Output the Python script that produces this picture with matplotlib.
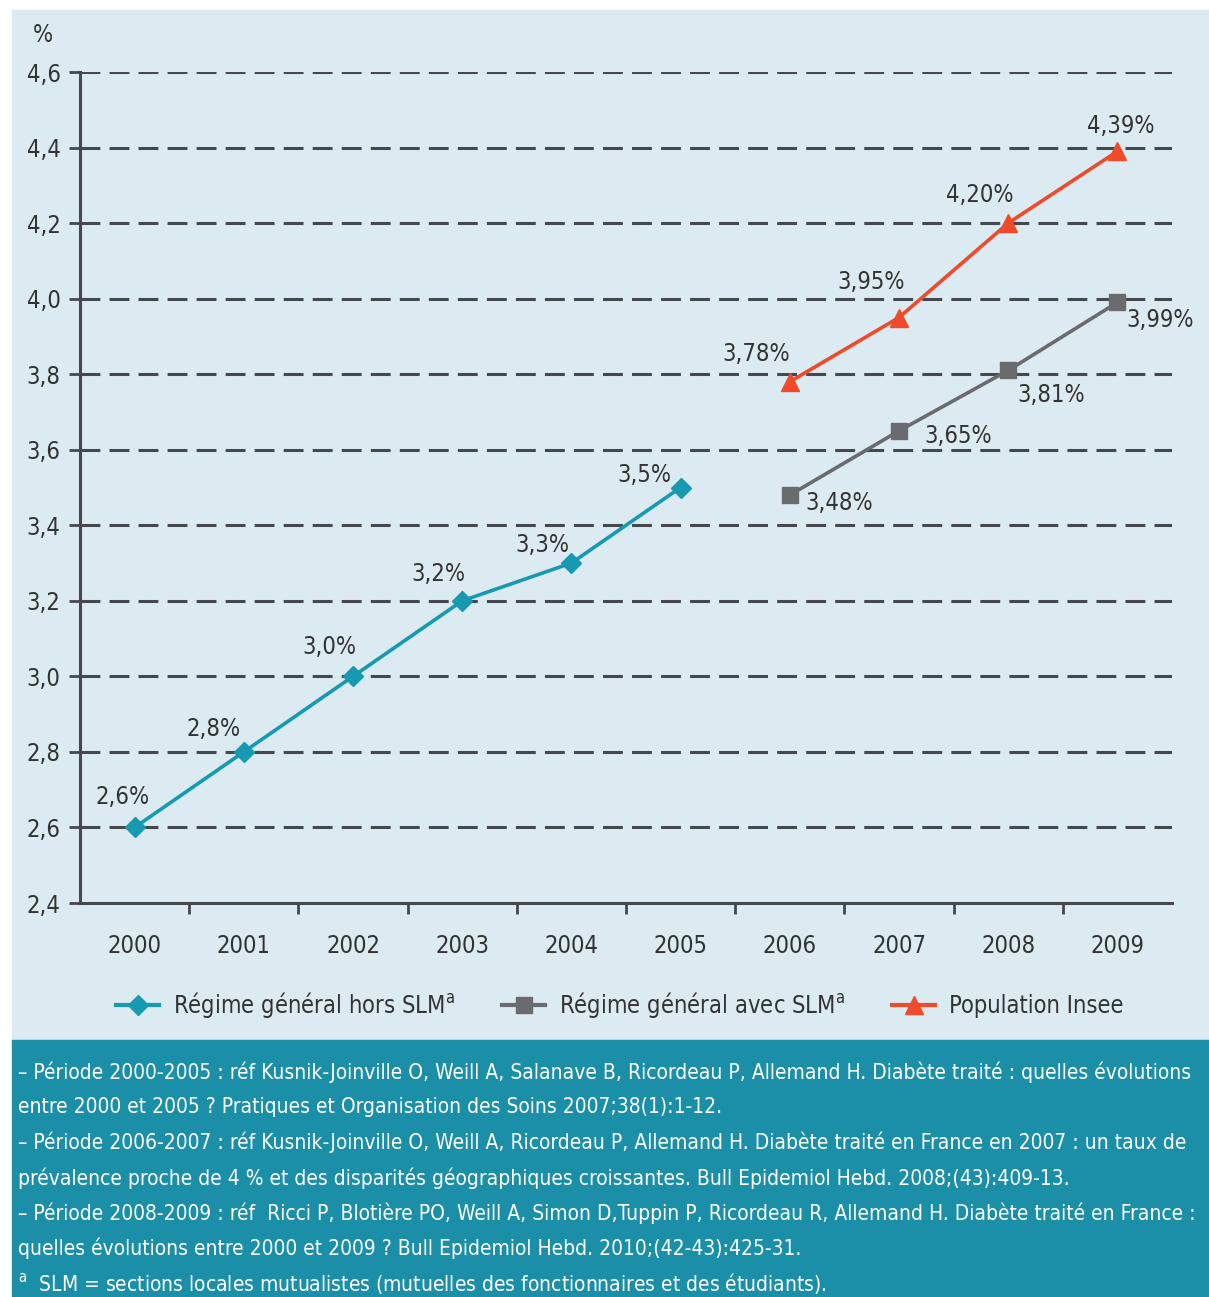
import matplotlib
matplotlib.use('Agg')
import matplotlib.pyplot as plt
from matplotlib.patches import Rectangle
from matplotlib.lines import Line2D

plt.rcParams['font.family'] = ['DejaVu Sans']
plt.rcParams['font.stretch'] = 'condensed'
# superscript "a" rendered with the same condensed face
plt.rcParams['mathtext.fontset'] = 'custom'
plt.rcParams['mathtext.rm'] = 'DejaVu Sans:stretch=condensed'

years = ['2000', '2001', '2002', '2003', '2004', '2005', '2006', '2007', '2008', '2009']
hors_slm = [2.6, 2.8, 3.0, 3.2, 3.3, 3.5]
hors_slm_lbl = ['2,6%', '2,8%', '3,0%', '3,2%', '3,3%', '3,5%']
avec_slm = [3.48, 3.65, 3.81, 3.99]
avec_slm_lbl = ['3,48%', '3,65%', '3,81%', '3,99%']
insee = [3.78, 3.95, 4.20, 4.39]
insee_lbl = ['3,78%', '3,95%', '4,20%', '4,39%']
yticks = [2.4, 2.6, 2.8, 3.0, 3.2, 3.4, 3.6, 3.8, 4.0, 4.2, 4.4, 4.6]
ytick_lbl = ['2,4', '2,6', '2,8', '3,0', '3,2', '3,4', '3,6', '3,8', '4,0', '4,2', '4,4', '4,6']
sup_a = r'$^{\mathrm{a}}$'
labels = ['Régime général hors SLM' + sup_a, 'Régime général avec SLM' + sup_a, 'Population Insee']
notes = [
    '– Période 2000-2005 : réf Kusnik-Joinville O, Weill A, Salanave B, Ricordeau P, Allemand H. Diabète traité : quelles évolutions',
    'entre 2000 et 2005 ? Pratiques et Organisation des Soins 2007;38(1):1-12.',
    '– Période 2006-2007 : réf Kusnik-Joinville O, Weill A, Ricordeau P, Allemand H. Diabète traité en France en 2007 : un taux de',
    'prévalence proche de 4 % et des disparités géographiques croissantes. Bull Epidemiol Hebd. 2008;(43):409-13.',
    '– Période 2008-2009 : réf  Ricci P, Blotière PO, Weill A, Simon D,Tuppin P, Ricordeau R, Allemand H. Diabète traité en France :',
    'quelles évolutions entre 2000 et 2009 ? Bull Epidemiol Hebd. 2010;(42-43):425-31.',
    sup_a + '  SLM = sections locales mutualistes (mutuelles des fonctionnaires et des étudiants).',
]

c_teal = '#1799b1'
c_gray = '#6a6b6e'
c_red = '#f04a2c'
c_txt = '#333333'
c_grid = '#45484c'

W, H = 1209, 1297
fig = plt.figure(figsize=(W / 100, H / 100), dpi=100)
fig.patches.append(Rectangle((12 / W, 257 / H), 1 - 12 / W, (1040 - 10) / H,
                             transform=fig.transFigure, color='#dceaf1', zorder=-10))
fig.patches.append(Rectangle((12 / W, 0), 1 - 12 / W, 257 / H,
                             transform=fig.transFigure, color='#1a8fa7', zorder=-10))

ax = fig.add_axes([80 / W, 1 - 903 / H, (1172 - 80) / W, (903 - 72) / H])
ax.set_facecolor('none')

x_all = list(range(len(years)))
x1 = x_all[:6]
x2 = x_all[6:]

for y in yticks[1:]:
    ax.axhline(y, color=c_grid, lw=2.2, dashes=(6.5, 3), zorder=1)

ax.plot(x1, hors_slm, color=c_teal, lw=2.6, marker='D', ms=10, zorder=3)
ax.plot(x2, avec_slm, color=c_gray, lw=2.6, marker='s', ms=12, zorder=3)
ax.plot(x2, insee, color=c_red, lw=2.6, marker='^', ms=13, zorder=3)

off1 = [(-12, 30), (-30, 23), (-24, 29), (-24, 27), (-29, 18), (-36, 13)]
off2 = [(49, -8), (59, -5), (43, -25), (43, -18)]
off3 = [(-34, 28), (-28, 36), (-28, 28), (3, 25)]
fs = 17
for xs, ys, lbls, offs in [(x1, hors_slm, hors_slm_lbl, off1),
                           (x2, avec_slm, avec_slm_lbl, off2),
                           (x2, insee, insee_lbl, off3)]:
    for xx, yy, lb, off in zip(xs, ys, lbls, offs):
        ax.annotate(lb, (xx, yy), xytext=off, textcoords='offset pixels',
                    ha='center', va='center', fontsize=fs, color=c_txt)

ax.set_xlim(-0.5, 9.5)
ax.set_ylim(2.4, 4.6)
ax.set_xticks(x_all)
ax.set_xticklabels(years, fontsize=fs, color=c_txt)
ax.set_xticks([i + 0.5 for i in x_all[:-1]], minor=True)
ax.tick_params(axis='x', which='major', length=0, pad=22)
ax.tick_params(axis='x', which='minor', length=8, width=2, color=c_grid, direction='out')
ax.set_yticks(yticks)
ax.set_yticklabels(ytick_lbl, fontsize=fs, color=c_txt)
ax.tick_params(axis='y', length=8, width=2, color=c_grid, pad=6)
for s in ['top', 'right']:
    ax.spines[s].set_visible(False)
for s in ['left', 'bottom']:
    ax.spines[s].set_color(c_grid)
    ax.spines[s].set_linewidth(2.2)

fig.text(43 / W, 1 - 35 / H, '%', fontsize=fs, color=c_txt, ha='center', va='center')

handles = [
    Line2D([], [], color=c_teal, lw=3, marker='D', ms=10),
    Line2D([], [], color=c_gray, lw=3, marker='s', ms=12),
    Line2D([], [], color=c_red, lw=3, marker='^', ms=13),
]
fig.legend(handles, labels, loc='center', bbox_to_anchor=(620 / W, 1 - 1005 / H),
           ncol=3, frameon=False, fontsize=17, handlelength=1.8, columnspacing=2.0,
           handletextpad=0.6, labelcolor=c_txt)

for i, line in enumerate(notes):
    fig.text(18 / W, 1 - (1072 + i * 35.3) / H, line, fontsize=15, color='white',
             ha='left', va='center')

fig.savefig('out.png', dpi=100)
